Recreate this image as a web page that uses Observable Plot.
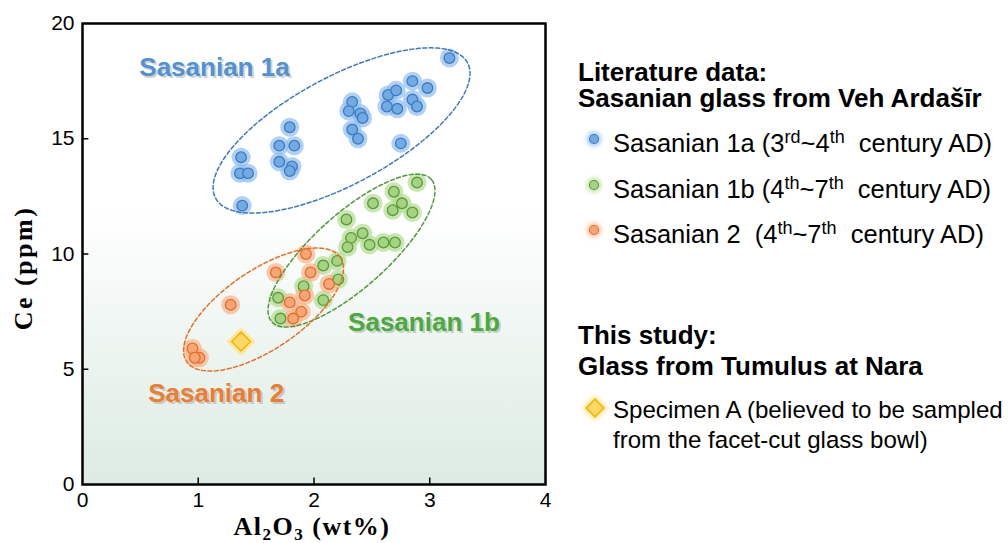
<!DOCTYPE html>
<html><head><meta charset="utf-8">
<script src="https://cdn.jsdelivr.net/npm/d3@7"></script>
<script src="https://cdn.jsdelivr.net/npm/@observablehq/plot@0.6"></script>
<style>
body{margin:0;background:#fff;}
#wrap{position:relative;width:1008px;height:543px;overflow:hidden;}
#wrap svg{position:absolute;top:0;}
</style></head><body><div id="wrap"></div>
<script>
// ---- data ----
const xTicks = [0, 1, 2, 3, 4];
const yTicks = [0, 5, 10, 15, 20];
const groups = ["Sasanian 1a", "Sasanian 1b", "Sasanian 2"];

const s1aAl = [1.79,1.70,1.83,1.70,1.81,1.79,1.37,1.36,1.43,1.38,3.17,2.33,2.30,2.40,2.42,2.33,2.38,2.64,2.71,2.63,2.72,2.85,2.98,2.85,2.89,2.75];
const s1aCe = [15.5,14.7,14.7,14.0,13.8,13.6,14.2,13.5,13.5,12.1,18.5,16.6,16.2,16.1,15.9,15.4,15.0,16.9,17.1,16.4,16.3,17.5,17.2,16.7,16.4,14.8];
const s1bAl = [2.89,2.69,2.51,2.76,2.68,2.85,2.28,2.42,2.32,2.48,2.60,2.70,2.29,2.20,2.08,2.21,1.91,1.69,2.08,1.71];
const s1bCe = [13.1,12.7,12.2,12.2,11.9,11.8,11.5,10.9,10.7,10.4,10.5,10.5,10.3,9.7,9.5,8.9,8.6,8.1,8.0,7.2];
const s2Al = [1.93,1.67,1.97,2.13,1.92,1.79,1.28,1.89,1.82,0.95,1.01,0.97];
const s2Ce = [10.0,9.2,9.2,8.7,8.2,7.9,7.8,7.5,7.2,5.9,5.5,5.5];
const specAl = [1.37];
const specCe = [6.2];

// group ellipses (centre, major half-axis vector, minor half-axis vector, data units)
const ellCx = [2.238, 2.324, 1.564];
const ellCy = [15.36, 10.15, 7.59];
const ellMajX = [1.088, 0.689, 0.664];
const ellMajY = [2.94, 3.09, 2.26];
const ellMinX = [-0.220, -0.213, -0.191];
const ellMinY = [2.05, 1.20, 1.42];

// in-plot group labels
const grpLabelX = [1.14, 2.95, 1.155];
const grpLabelY = [18.1, 7.03, 3.95];

// legend texts
const legendHead1 = ["Literature data:", "Sasanian glass from Veh Ardašīr"];
const legendItems = ["Sasanian 1a (3^{rd}~4^{th} century AD)", "Sasanian 1b (4^{th}~7^{th} century AD)", "Sasanian 2  (4^{th}~7^{th} century AD)"];
const legendHead2 = ["This study:", "Glass from Tumulus at Nara"];
const legendSpec = ["Specimen A (believed to be sampled", "from the facet-cut glass bowl)"];

// ---- styles ----
const fills = ["#72aae2", "#a5d381", "#f6a577"];
const strokes = ["#3b7ac6", "#559c3a", "#e66f26"];
const glowCols = ["#8fbdf0", "#b4dc93", "#f7b48c"];
const labelCols = ["#4f93d6", "#4aab3c", "#ee7d2f"];
const ellCols = ["#3a78c6", "#4f9a38", "#ea7020"];

const sets = [[s1aAl, s1aCe], [s1bAl, s1bCe], [s2Al, s2Ce]].map(([a, c], gi) => a.map((v, i) => ({al: v, ce: c[i], g: groups[gi]})));
const spec = specAl.map((v, i) => ({al: v, ce: specCe[i]}));
const ellPts = groups.map((g, k) => d3.range(0, 201).map(i => {
  const t = i / 200 * 2 * Math.PI;
  return {x: ellCx[k] + ellMajX[k] * Math.cos(t) + ellMinX[k] * Math.sin(t),
          y: ellCy[k] + ellMajY[k] * Math.cos(t) + ellMinY[k] * Math.sin(t)};
}));
const grpLabels = groups.map((g, k) => ({x: grpLabelX[k], y: grpLabelY[k], t: g}));

const marks = [
  Plot.frame({fill: "url(#bgGrad)", stroke: "none"}),
];
sets.forEach((d, k) => marks.push(Plot.dot(d, {x: "al", y: "ce", r: 9.5, fill: glowCols[k], fillOpacity: 0.7, stroke: "none", ariaLabel: "glow"})));
marks.push(Plot.dot(spec, {x: "al", y: "ce", r: 13, symbol: "diamond2", fill: "#ffe38a", fillOpacity: 0.8, stroke: "none", ariaLabel: "glow"}));
sets.forEach((d, k) => marks.push(Plot.dot(d, {x: "al", y: "ce", r: 5.3, fill: fills[k], stroke: strokes[k], strokeWidth: 1.3})));
marks.push(Plot.dot(spec, {x: "al", y: "ce", r: 8.5, symbol: "diamond2", fill: "#ffd866", stroke: "#f2b400", strokeWidth: 1.5}));
ellPts.forEach((d, k) => marks.push(Plot.line(d, {x: "x", y: "y", stroke: ellCols[k], strokeWidth: 1.5, strokeDasharray: "4,2.5", curve: "linear"})));
marks.push(Plot.text(grpLabels, {x: "x", y: "y", text: "t", dx: 2, dy: 2, fill: "#9a9a9a", fillOpacity: 0.45, fontSize: 26, fontWeight: "bold", fontFamily: "Liberation Sans, Arial, sans-serif"}));
grpLabels.forEach((d, k) => marks.push(Plot.text([d], {x: "x", y: "y", text: "t", fill: labelCols[k], fontSize: 26, fontWeight: "bold", fontFamily: "Liberation Sans, Arial, sans-serif"})));
marks.push(Plot.ruleX(xTicks.slice(1, -1), {y1: 0, y2: 0.28, stroke: "black", strokeWidth: 1.5}));
marks.push(Plot.ruleY(yTicks.slice(1, -1), {x1: 0, x2: 0.055, stroke: "black", strokeWidth: 1.5}));
marks.push(Plot.axisX({ticks: xTicks, tickFormat: d3.format("d"), tickSize: 0, tickPadding: 8, label: null}));
marks.push(Plot.axisY({ticks: yTicks, tickFormat: d3.format("d"), tickSize: 0, tickPadding: 8, label: null}));
marks.push(Plot.frame({stroke: "black", strokeWidth: 2.5}));

const chart = Plot.plot({
  width: 570, height: 543,
  marginLeft: 82, marginRight: 25, marginTop: 23, marginBottom: 59,
  x: {domain: [0, 4]},
  y: {domain: [0, 20]},
  style: {fontFamily: "Liberation Sans, Arial, sans-serif", fontSize: "21px", color: "black", background: "transparent", overflow: "visible"},
  marks
});

const svg = d3.select(chart.tagName.toLowerCase() === "svg" ? chart : chart.querySelector("svg"));
const defs = svg.insert("defs", ":first-child");
const grad = defs.append("linearGradient").attr("id", "bgGrad").attr("x1", 0).attr("x2", 0).attr("y1", 0).attr("y2", 1);
grad.append("stop").attr("offset", "0%").attr("stop-color", "#ffffff");
grad.append("stop").attr("offset", "40%").attr("stop-color", "#ffffff");
grad.append("stop").attr("offset", "100%").attr("stop-color", "#dcebe3");
defs.append("filter").attr("id", "blur").attr("x", "-50%").attr("y", "-50%").attr("width", "200%").attr("height", "200%")
  .append("feGaussianBlur").attr("stdDeviation", 2.8);
svg.selectAll('g[aria-label="glow"]').attr("filter", "url(#blur)");

// axis titles
const xt = svg.append("text").attr("x", 312).attr("y", 535).attr("text-anchor", "middle")
  .attr("font-family", "Liberation Serif, Times New Roman, serif").attr("font-weight", "bold").attr("font-size", 26)
  .attr("letter-spacing", 1.5).attr("fill", "black");
[["Al", 0], ["2", 1], ["O", 0], ["3", 1], [" (wt%)", 0]].forEach(([t, sub], i) => {
  const ts = xt.append("tspan").text(t);
  if (sub) ts.attr("font-size", 17).attr("dy", 5); else if (i > 0) ts.attr("dy", -5);
});
svg.append("text").attr("transform", "translate(32,268) rotate(-90)").attr("text-anchor", "middle")
  .attr("font-family", "Liberation Serif, Times New Roman, serif").attr("font-weight", "bold").attr("font-size", 26)
  .attr("letter-spacing", 2.5).attr("fill", "black")
  .text("Ce (ppm)");

document.getElementById("wrap").appendChild(chart);

// ---- legend ----
const lg = d3.select("#wrap").append("svg").attr("width", 438).attr("height", 543).style("left", "570px");
const ldefs = lg.append("defs");
ldefs.append("filter").attr("id", "lblur").attr("x", "-50%").attr("y", "-50%").attr("width", "200%").attr("height", "200%")
  .append("feGaussianBlur").attr("stdDeviation", 2);
const OX = 570;
function head(lines, ys) {
  lines.forEach((l, i) => lg.append("text").attr("x", 578 - OX).attr("y", ys[i]).attr("font-family", "Liberation Sans, Arial, sans-serif")
    .attr("font-weight", "bold").attr("font-size", 26).attr("fill", "black").text(l));
}
function rich(str, x, y, fs) {
  const t = lg.append("text").attr("x", x).attr("y", y).attr("font-family", "Liberation Sans, Arial, sans-serif")
    .attr("font-size", fs).attr("fill", "black").style("white-space", "pre");
  const parts = str.split(/(\^\{[^}]*\})/).filter(s => s.length);
  let up = false;
  parts.forEach(p => {
    if (p.startsWith("^{")) {
      t.append("tspan").attr("font-size", 18).attr("dy", -9).text(p.slice(2, -1));
      up = true;
    } else {
      let txt = p;
      if (txt.startsWith(" century")) txt = "  century" + txt.slice(8);
      const ts = t.append("tspan").text(txt);
      if (up) { ts.attr("dy", 9); up = false; }
    }
  });
}
head(legendHead1, [81, 107]);
const itemY = [139, 185, 230];
legendItems.forEach((s, k) => {
  lg.append("circle").attr("cx", 594 - OX).attr("cy", itemY[k]).attr("r", 7.5).attr("fill", glowCols[k]).attr("opacity", 0.75).attr("filter", "url(#lblur)");
  lg.append("circle").attr("cx", 594 - OX).attr("cy", itemY[k]).attr("r", 4.5).attr("fill", fills[k]).attr("stroke", strokes[k]).attr("stroke-width", 1.1);
  rich(s, 613 - OX, itemY[k] + 13, 25.5);
});
head(legendHead2, [344, 375]);
const sy = 408;
const dsym = (r) => d3.symbol(d3.symbolDiamond2, Math.PI * r * r)();
lg.append("path").attr("d", dsym(12)).attr("transform", `translate(${595 - OX},${sy})`).attr("fill", "#ffe38a").attr("opacity", 0.8).attr("filter", "url(#lblur)");
lg.append("path").attr("d", dsym(8)).attr("transform", `translate(${595 - OX},${sy})`).attr("fill", "#ffd866").attr("stroke", "#f2b400").attr("stroke-width", 1.5);
legendSpec.forEach((s, i) => rich(s, 613 - OX, [418, 448][i], 24.1));
</script></body></html>
